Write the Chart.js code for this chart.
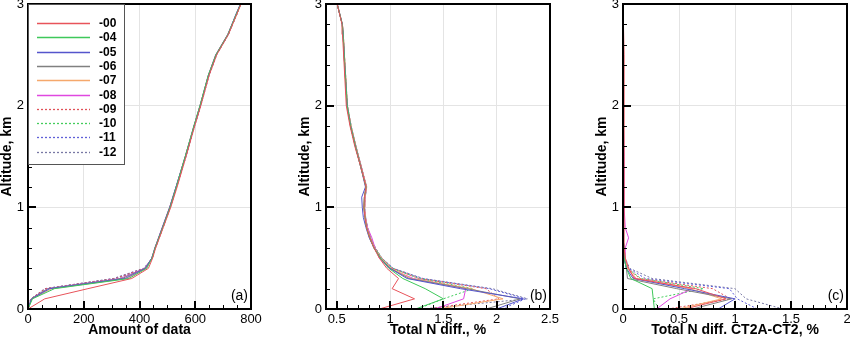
<!DOCTYPE html>
<html>
<head>
<meta charset="utf-8">
<script src="https://cdn.jsdelivr.net/npm/chart.js@4.4.0/dist/chart.umd.min.js"></script>
<style>
  html, body { margin: 0; padding: 0; background: #fff; }
  #wrap { position: relative; width: 850px; height: 338px; overflow: hidden; }
  canvas { position: absolute; top: 0; }
</style>
</head>
<body>
<div id="wrap">
  <canvas id="chartA" width="270" height="338" style="left:0px"></canvas>
  <canvas id="chartB" width="270" height="338" style="left:298px"></canvas>
  <canvas id="chartC" width="255" height="338" style="left:595px"></canvas>
</div>
<script>
const FONT = '"Liberation Sans", Arial, Helvetica, sans-serif';

// series
const seriesLabels = ['-00', '-04', '-05', '-06', '-07', '-08', '-09', '-10', '-11', '-12'];
const seriesColors = ['#e8535a', '#3ec85a', '#5555cc', '#808080', '#f5a86c', '#e048e0',
                      '#e0525a', '#44cc5c', '#6060d8', '#7878a4'];
const seriesDotted = [false, false, false, false, false, false, true, true, true, true];

// tick labels
const altTicks = [0, 1, 2, 3];
const ticksA = [0, 200, 400, 600, 800];
const ticksB = [0.5, 1, 1.5, 2, 2.5];
const ticksC = [0, 0.5, 1, 1.5, 2];

// (a) amount of data
const altA = [0, 0.1, 0.2, 0.3, 0.4, 0.5, 0.6, 0.8, 1.0, 1.2, 1.5, 1.8, 2.0, 2.3, 2.5, 2.7, 2.9, 3.0];
const amountOfData = [
  [0, 60, 215, 372, 432, 447, 458, 485, 512, 535, 567, 598, 620, 650, 677, 719, 749, 764],
  [0, 16, 95, 362, 426, 445, 456, 483, 510, 532, 564, 595, 617, 647, 674, 717, 747, 763],
  [0, 13, 78, 348, 422, 444, 456, 482, 509, 531, 565, 596, 618, 648, 675, 718, 746, 762],
  [0, 12, 72, 338, 420, 444, 455, 482, 508, 531, 564, 596, 617, 647, 674, 717, 748, 763],
  [0, 14, 85, 355, 424, 445, 456, 483, 509, 532, 565, 596, 618, 648, 675, 718, 749, 764],
  [0, 12, 70, 330, 419, 444, 455, 481, 508, 531, 564, 595, 617, 647, 673, 716, 747, 762],
  [0, 10, 62, 314, 417, 446, 457, 484, 510, 533, 566, 597, 619, 649, 676, 719, 749, 763],
  [0, 11, 66, 322, 418, 445, 456, 483, 509, 532, 565, 596, 618, 648, 675, 718, 748, 763],
  [0, 10, 61, 310, 416, 446, 457, 484, 510, 533, 566, 597, 619, 649, 676, 718, 749, 764],
  [0, 10, 60, 306, 415, 446, 457, 484, 511, 533, 567, 598, 620, 650, 677, 719, 750, 764]
];

// (b) total N diff, %
const altB = [0, 0.1, 0.2, 0.3, 0.4, 0.5, 0.6, 0.7, 0.8, 0.9, 1.0, 1.1, 1.2, 1.4, 1.6, 1.8, 2.0, 2.4, 2.7, 2.8, 3.0];
const totalNDiff = [
  [0.90, 1.23, 1.02, 1.08, 0.97, 0.90, 0.85, 0.81, 0.78, 0.765, 0.755, 0.76, 0.775, 0.725, 0.67, 0.625, 0.59, 0.57, 0.555, 0.55, 0.505],
  [1.24, 1.50, 1.33, 1.12, 0.99, 0.91, 0.85, 0.81, 0.78, 0.765, 0.755, 0.76, 0.775, 0.725, 0.675, 0.63, 0.598, 0.575, 0.56, 0.552, 0.505],
  [2.00, 2.25, 1.66, 1.16, 1.00, 0.91, 0.85, 0.805, 0.775, 0.75, 0.74, 0.735, 0.77, 0.725, 0.675, 0.63, 0.598, 0.575, 0.56, 0.553, 0.505],
  [1.90, 2.22, 1.72, 1.18, 1.00, 0.91, 0.85, 0.81, 0.78, 0.765, 0.755, 0.76, 0.775, 0.725, 0.675, 0.63, 0.598, 0.575, 0.56, 0.552, 0.505],
  [1.45, 2.06, 1.76, 1.20, 1.01, 0.92, 0.855, 0.815, 0.785, 0.77, 0.76, 0.765, 0.78, 0.73, 0.68, 0.635, 0.60, 0.578, 0.562, 0.554, 0.505],
  [1.42, 1.69, 1.71, 1.22, 0.99, 0.90, 0.86, 0.83, 0.79, 0.77, 0.76, 0.765, 0.78, 0.73, 0.675, 0.63, 0.596, 0.575, 0.56, 0.552, 0.505],
  [1.35, 2.02, 1.90, 1.27, 1.02, 0.92, 0.86, 0.815, 0.785, 0.77, 0.76, 0.765, 0.78, 0.73, 0.68, 0.635, 0.60, 0.578, 0.562, 0.554, 0.505],
  [1.26, 1.50, 1.78, 1.27, 1.02, 0.92, 0.86, 0.815, 0.785, 0.77, 0.76, 0.765, 0.78, 0.73, 0.68, 0.635, 0.60, 0.578, 0.562, 0.554, 0.505],
  [2.05, 2.27, 1.93, 1.30, 1.03, 0.925, 0.86, 0.82, 0.79, 0.772, 0.762, 0.768, 0.782, 0.732, 0.682, 0.636, 0.601, 0.578, 0.562, 0.554, 0.505],
  [1.30, 2.29, 1.96, 1.31, 1.03, 0.925, 0.865, 0.82, 0.79, 0.772, 0.762, 0.768, 0.782, 0.732, 0.682, 0.636, 0.601, 0.578, 0.562, 0.554, 0.505]
];

// (c) total N diff CT2A-CT2, %
const altC = [0, 0.1, 0.2, 0.3, 0.4, 0.5, 0.6, 0.7, 0.8, 1.0, 1.5, 2.0, 2.5, 3.0];
const ct2aDiff = [
  [0.55, 0.92, 0.65, 0.10, 0.05, 0.02, 0.01, 0.01, 0.01, 0.01, 0.01, 0.01, 0.01, 0.0],
  [0.28, 0.27, 0.26, 0.07, 0.03, 0.01, 0.01, 0.0, 0.0, 0.0, 0.0, 0.0, 0.0, 0.0],
  [0.85, 1.00, 0.55, 0.09, 0.03, 0.01, 0.01, 0.0, 0.0, 0.0, 0.0, 0.0, 0.0, 0.0],
  [0.62, 0.97, 0.48, 0.04, 0.03, 0.01, 0.0, 0.0, 0.0, 0.0, 0.0, 0.0, 0.0, 0.0],
  [0.50, 0.88, 0.60, 0.12, 0.04, 0.02, 0.01, 0.0, 0.0, 0.0, 0.0, 0.0, 0.0, 0.0],
  [0.30, 0.42, 0.62, 0.11, 0.04, 0.02, 0.02, 0.05, 0.02, 0.01, 0.01, 0.0, 0.0, 0.0],
  [0.40, 0.96, 0.80, 0.15, 0.04, 0.02, 0.01, 0.0, 0.0, 0.0, 0.0, 0.0, 0.0, 0.0],
  [0.32, 0.27, 0.72, 0.16, 0.04, 0.01, 0.0, 0.0, 0.0, 0.0, 0.0, 0.0, 0.0, 0.0],
  [1.20, 1.02, 0.95, 0.20, 0.05, 0.02, 0.01, 0.0, 0.0, 0.0, 0.0, 0.0, 0.0, 0.0],
  [1.43, 1.10, 1.00, 0.26, 0.06, 0.02, 0.01, 0.0, 0.0, 0.0, 0.0, 0.0, 0.0, 0.0]
];

// frame, inward tick marks and panel tag
const framePlugin = {
  id: 'frame',
  afterDatasetsDraw(chart, args, opts) {
    const { ctx, chartArea: a, scales: { x, y } } = chart;
    ctx.save();
    ctx.strokeStyle = '#000';
    // minor ticks
    ctx.lineWidth = 1;
    ctx.beginPath();
    const nx = Math.round((x.max - x.min) / opts.xMinor);
    for (let i = 0; i <= nx; i++) {
      const px = Math.round(x.getPixelForValue(x.min + i * opts.xMinor)) + 0.5;
      ctx.moveTo(px, a.bottom); ctx.lineTo(px, a.bottom - 4);
    }
    const ny = Math.round((y.max - y.min) / opts.yMinor);
    for (let i = 0; i <= ny; i++) {
      const py = Math.round(y.getPixelForValue(y.min + i * opts.yMinor)) + 0.5;
      ctx.moveTo(a.left, py); ctx.lineTo(a.left + 4, py);
    }
    ctx.stroke();
    // major ticks
    ctx.lineWidth = 2;
    ctx.beginPath();
    x.ticks.forEach(t => {
      const px = Math.round(x.getPixelForValue(t.value));
      ctx.moveTo(px, a.bottom); ctx.lineTo(px, a.bottom - 8);
    });
    y.ticks.forEach(t => {
      const py = Math.round(y.getPixelForValue(t.value));
      ctx.moveTo(a.left, py); ctx.lineTo(a.left + 8, py);
    });
    ctx.stroke();
    ctx.strokeRect(a.left, a.top, a.right - a.left, a.bottom - a.top);
    ctx.fillStyle = '#000';
    ctx.font = '14px ' + FONT;
    ctx.textAlign = 'right';
    ctx.textBaseline = 'middle';
    ctx.fillText(opts.tag, a.right - 3, a.bottom - 13);
    ctx.restore();
  }
};

// legend box drawn inside panel (a)
const boxLegend = {
  id: 'boxLegend',
  afterDatasetsDraw(chart, args, opts) {
    if (!opts.show) return;
    const { ctx, chartArea: a } = chart;
    ctx.save();
    ctx.fillStyle = '#fff';
    ctx.fillRect(a.left, a.top, 96, 160);
    ctx.strokeStyle = '#555';
    ctx.lineWidth = 1;
    ctx.strokeRect(a.left + 0.5, a.top + 0.5, 96, 160);
    ctx.font = 'bold 12px ' + FONT;
    ctx.textBaseline = 'middle';
    ctx.textAlign = 'left';
    chart.data.datasets.forEach((ds, i) => {
      const yy = Math.round(a.top + 19 + i * 14.3) + 0.5;
      ctx.strokeStyle = ds.borderColor;
      ctx.lineWidth = 1.3;
      ctx.setLineDash(ds.borderDash);
      ctx.beginPath();
      ctx.moveTo(a.left + 9, yy); ctx.lineTo(a.left + 62, yy);
      ctx.stroke();
      ctx.setLineDash([]);
      ctx.fillStyle = '#000';
      ctx.fillText(ds.label, a.left + 71, yy);
    });
    ctx.restore();
  }
};

function makeChart(id, alt, series, xMin, xMax, xTicks, xMinor, xTitle, tag, padRight, showLegend) {
  const datasets = series.map((vals, i) => ({
    label: seriesLabels[i],
    data: vals.map((v, k) => ({ x: v, y: alt[k] })),
    borderColor: seriesColors[i],
    borderWidth: 1,
    borderDash: seriesDotted[i] ? [2, 2] : [],
    pointRadius: 0,
    showLine: true,
    fill: false
  }));

  return new Chart(document.getElementById(id), {
    type: 'scatter',
    data: { datasets },
    options: {
      responsive: false,
      animation: false,
      events: [],
      layout: { padding: { top: 4, right: padRight, left: 0, bottom: 0 } },
      plugins: {
        legend: { display: false },
        tooltip: { enabled: false },
        frame: { tag, xMinor, yMinor: 0.2 },
        boxLegend: { show: showLegend }
      },
      scales: {
        x: {
          type: 'linear', min: xMin, max: xMax,
          afterBuildTicks: s => { s.ticks = xTicks.map(v => ({ value: v })); },
          afterFit: s => { s.height = 29; s.paddingLeft = 0; s.paddingRight = 0; },
          grid: { color: '#e4e4e4', drawTicks: false },
          border: { display: false },
          ticks: { padding: 3, color: '#000', maxRotation: 0, autoSkip: false,
                   font: { family: FONT, size: 13 }, callback: v => String(v) },
          title: { display: true, text: xTitle, color: '#000',
                   font: { family: FONT, size: 14, weight: 'bold', lineHeight: 1 },
                   padding: { top: 0, bottom: 1 } }
        },
        y: {
          type: 'linear', min: 0, max: 3,
          afterBuildTicks: s => { s.ticks = altTicks.map(v => ({ value: v })); },
          afterFit: s => { s.width = 28; s.paddingTop = 0; s.paddingBottom = 0; },
          grid: { color: '#e4e4e4', drawTicks: false },
          border: { display: false },
          ticks: { padding: 4, color: '#000', font: { family: FONT, size: 13 },
                   callback: v => String(v) },
          title: { display: true, text: 'Altitude, km', color: '#000',
                   font: { family: FONT, size: 14, weight: 'bold', lineHeight: 1 },
                   padding: { top: 0, bottom: 0 } }
        }
      }
    },
    plugins: [framePlugin, boxLegend]
  });
}

makeChart('chartA', altA, amountOfData, 0, 800, ticksA, 50, 'Amount of data', '(a)', 19, true);
makeChart('chartB', altB, totalNDiff, 0.4, 2.5, ticksB, 0.1, 'Total N diff., %', '(b)', 18, false);
makeChart('chartC', altC, ct2aDiff, 0, 2, ticksC, 0.1, 'Total N diff. CT2A-CT2, %', '(c)', 3, false);
</script>
</body>
</html>
